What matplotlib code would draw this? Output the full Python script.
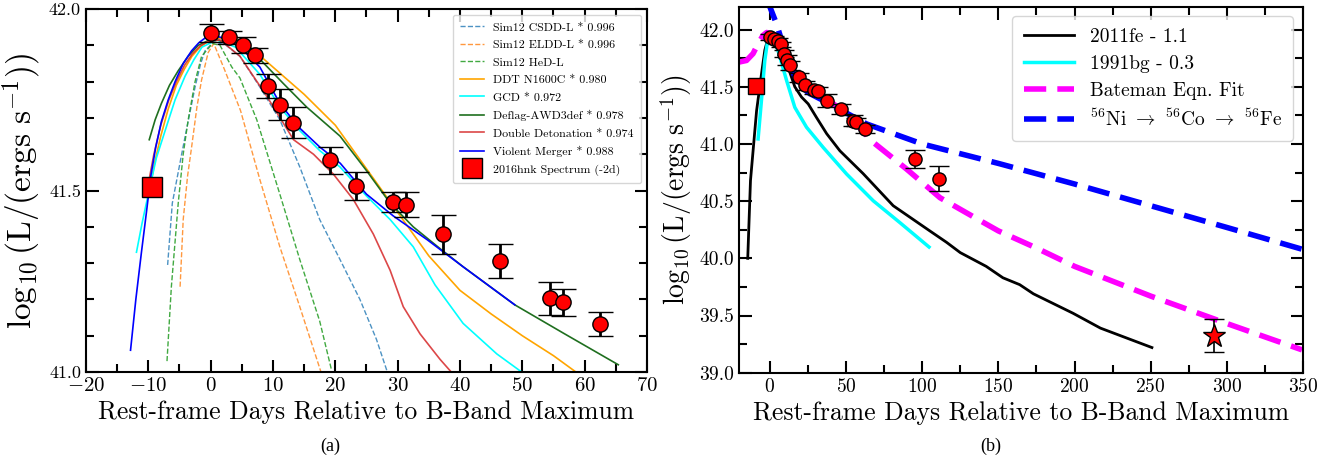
import numpy as np
import matplotlib
matplotlib.use("Agg")
import matplotlib.pyplot as plt
from matplotlib.ticker import MultipleLocator

plt.rcParams['font.family'] = 'serif'
plt.rcParams['font.serif'] = ['cmr10']
plt.rcParams['mathtext.fontset'] = 'cm'
plt.rcParams['axes.formatter.use_mathtext'] = True
plt.rcParams['axes.unicode_minus'] = True

# observed bolometric light curve of 2016hnk
obs_day = [0.0, 3.0, 5.2, 7.1, 9.2, 11.2, 13.2, 19.2, 23.3, 29.3, 31.3, 37.3, 46.5, 54.4, 56.5, 62.4]
obs_L = [41.934, 41.922, 41.901, 41.872, 41.788, 41.736, 41.687, 41.583, 41.512, 41.468, 41.461,
         41.379, 41.305, 41.203, 41.192, 41.132]
obs_err = [0.024, 0.018, 0.023, 0.020, 0.032, 0.043, 0.042, 0.037, 0.038, 0.027, 0.035,
           0.054, 0.047, 0.046, 0.038, 0.034]
spec_day, spec_L = -9.4, 41.51

# late-time points (panel b only)
late_day = [95.3, 111.2]
late_L = [40.868, 40.698]
late_err = [0.079, 0.111]
star_day, star_L, star_err = 291.7, 39.325, 0.148

# panel (a) models
csdd_d = [-6.9, -6.15, -4.65, -3.5, -2.5, -1.6, -0.9, 0.5, 2.5, 4.7, 7.9, 11.1, 14.3, 17.5, 20.75,
          23.95, 26.6, 28.25]
csdd_L = [41.295, 41.465, 41.60, 41.70, 41.785, 41.85, 41.885, 41.91, 41.90, 41.87, 41.785, 41.695,
          41.565, 41.42, 41.31, 41.20, 41.09, 41.005]
eldd_d = [-4.9, -4.4, -3.7, -3.05, -2.2, -1.45, -0.4, 0.5, 2.3, 4.8, 7.9, 11.1, 14.3, 17.7]
eldd_L = [41.235, 41.42, 41.54, 41.62, 41.73, 41.805, 41.88, 41.905, 41.83, 41.72, 41.53, 41.345,
          41.18, 41.0]
hed_d = [-7.0, -6.3, -5.2, -4.4, -3.6, -2.5, -1.45, 0.3, 1.5, 3.4, 4.7, 7.4, 11.1, 14.3, 17.5, 19.4]
hed_L = [41.03, 41.235, 41.465, 41.60, 41.695, 41.80, 41.87, 41.905, 41.90, 41.84, 41.81, 41.695,
         41.49, 41.31, 41.14, 41.005]
ddt_d = [-10.0, -9.0, -8.0, -6.8, -5.5, -4.2, -3.0, -1.7, -0.5, 1.5, 4.7, 7.0, 10.0, 15.0, 20.0,
         25.0, 30.0, 35.0, 40.0, 45.0, 50.0, 55.0, 58.6]
ddt_L = [41.48, 41.575, 41.65, 41.725, 41.79, 41.835, 41.87, 41.895, 41.91, 41.92, 41.915, 41.885,
         41.84, 41.765, 41.68, 41.56, 41.44, 41.32, 41.225, 41.16, 41.10, 41.045, 41.0]
gcd_d = [-11.9, -11.0, -10.0, -8.7, -7.3, -5.7, -4.1, -2.7, -1.4, 1.0, 4.0, 7.9, 11.1, 14.3, 17.5,
         20.75, 25.0, 28.8, 32.5, 36.0, 40.5, 45.9, 49.9]
gcd_L = [41.33, 41.41, 41.49, 41.59, 41.665, 41.75, 41.815, 41.86, 41.895, 41.915, 41.895, 41.82,
         41.73, 41.665, 41.61, 41.565, 41.485, 41.42, 41.345, 41.24, 41.134, 41.05, 41.0]
defl_d = [-9.85, -8.9, -7.9, -6.6, -5.2, -3.6, -2.0, -0.5, 1.0, 4.7, 8.0, 11.65, 15.4, 20.75, 25.0,
          28.8, 32.5, 36.8, 40.5, 48.8, 56.6, 65.4]
defl_L = [41.64, 41.695, 41.74, 41.79, 41.83, 41.87, 41.90, 41.912, 41.915, 41.90, 41.86, 41.795,
          41.73, 41.65, 41.555, 41.465, 41.40, 41.34, 41.29, 41.185, 41.107, 41.02]
dd_d = [-10.2, -9.1, -8.0, -6.7, -5.5, -4.2, -3.0, -1.7, -0.5, 1.5, 4.7, 9.0, 13.3, 16.5, 19.7,
        22.9, 26.1, 28.8, 30.9, 33.6, 36.8, 38.6]
dd_L = [41.50, 41.60, 41.68, 41.75, 41.80, 41.845, 41.875, 41.898, 41.91, 41.915, 41.87, 41.76,
        41.64, 41.60, 41.545, 41.475, 41.38, 41.28, 41.18, 41.105, 41.035, 41.0]
vm_d = [-12.85, -12.0, -11.1, -10.3, -9.6, -8.8, -7.9, -6.8, -5.7, -4.4, -3.05, -1.9, -0.9, 1.0,
        3.0, 5.0, 7.9, 11.1, 14.1, 17.5, 20.8, 25.0, 29.3, 34.7, 40.5, 48.8]
vm_L = [41.06, 41.20, 41.33, 41.44, 41.54, 41.62, 41.69, 41.75, 41.80, 41.85, 41.885, 41.907,
        41.92, 41.925, 41.915, 41.89, 41.84, 41.74, 41.675, 41.62, 41.575, 41.49, 41.43, 41.365,
        41.29, 41.185]

# panel (b) comparison curves
fe_d = [-14.5, -12.7, -8.7, -5.5, -3.3, -0.5, 1.0, 6.6, 12.0, 16.4, 20.8, 25.2, 30.7, 37.3, 46.0,
        61.3, 81.0, 105.0, 116.0, 125.0, 142.0, 153.0, 164.0, 173.0, 199.0, 217.0, 250.8]
fe_L = [40.0, 40.68, 41.29, 41.61, 41.82, 41.96, 41.97, 41.90, 41.67, 41.50, 41.41, 41.35, 41.23,
        41.09, 40.94, 40.74, 40.46, 40.24, 40.14, 40.05, 39.93, 39.83, 39.77, 39.69, 39.52, 39.39,
        39.22]
bg_d = [-7.7, -5.5, -3.3, -1.1, 0.5, 3.3, 6.6, 11.0, 16.4, 24.1, 35.0, 50.4, 67.9, 85.4, 104.5]
bg_L = [41.044, 41.38, 41.73, 41.935, 41.965, 41.906, 41.76, 41.555, 41.32, 41.146, 40.97, 40.737,
        40.503, 40.312, 40.099]
bat_d = [-20.2, -15.3, -11.0, -7.7, -4.4, -2.0, 0.0, 5.0, 10.0, 15.0, 20.0, 27.4, 40.0, 52.6, 67.9,
         89.8, 111.7, 138.0, 150.0, 175.0, 200.0, 250.0, 300.0, 349.3]
bat_L = [41.716, 41.73, 41.79, 41.877, 41.95, 41.975, 41.96, 41.90, 41.76, 41.64, 41.56, 41.497,
         41.37, 41.233, 41.014, 40.78, 40.53, 40.33, 40.24, 40.09, 39.93, 39.67, 39.43, 39.20]
ni_d = [-1.0, 0.0, 4.4, 7.7, 12.0, 17.5, 25.0, 37.2, 63.5, 100.0, 150.0, 200.0, 250.0, 300.0, 349.3]
ni_L = [42.30, 42.2, 42.05, 41.906, 41.73, 41.555, 41.45, 41.365, 41.175, 41.0, 40.83, 40.65,
        40.46, 40.27, 40.08]

fig = plt.figure(figsize=(13.37, 4.63), dpi=100)
axa = fig.add_axes([0.0643, 0.1965, 0.4196, 0.784])
axb = fig.add_axes([0.553, 0.195, 0.4216, 0.7905])

# ---- panel (a)
axa.plot(csdd_d, csdd_L, '--', color='#1f77b4', lw=1.0, alpha=0.8, label='Sim12 CSDD-L * 0.996')
axa.plot(eldd_d, eldd_L, '--', color='#ff7f0e', lw=1.0, alpha=0.8, label='Sim12 ELDD-L * 0.996')
axa.plot(hed_d, hed_L, '--', color='#2ca02c', lw=1.0, alpha=0.9, label='Sim12 HeD-L')
axa.plot(ddt_d, ddt_L, '-', color='orange', lw=1.2, label='DDT N1600C * 0.980')
axa.plot(gcd_d, gcd_L, '-', color='cyan', lw=1.2, label='GCD * 0.972')
axa.plot(defl_d, defl_L, '-', color='#1f6f1f', lw=1.2, label='Deflag-AWD3def * 0.978')
axa.plot(dd_d, dd_L, '-', color='#d62728', lw=1.2, alpha=0.85, label='Double Detonation * 0.974')
axa.plot(vm_d, vm_L, '-', color='blue', lw=1.2, label='Violent Merger * 0.988')
axa.errorbar(obs_day, obs_L, yerr=obs_err, fmt='o', color='red', mec='black', mew=1.0, ms=11,
             ecolor='black', elinewidth=2, capsize=9, capthick=1.5, zorder=5)
axa.plot([spec_day], [spec_L], 's', color='red', mec='black', mew=1.0, ms=15, zorder=6,
         label='2016hnk Spectrum (-2d)')

axa.set_xlim(-20, 70)
axa.set_ylim(41.0, 42.0)
axa.xaxis.set_major_locator(MultipleLocator(10))
axa.xaxis.set_minor_locator(MultipleLocator(5))
axa.yaxis.set_major_locator(MultipleLocator(0.5))
axa.yaxis.set_minor_locator(MultipleLocator(0.1))
axa.yaxis.set_major_formatter(plt.FormatStrFormatter('%.1f'))
axa.tick_params(axis='x', labelsize=15)
axa.tick_params(axis='y', labelsize=13)
axa.set_xlabel('Rest-frame Days Relative to B-Band Maximum', fontsize=18.5)
axa.set_ylabel(r'$\log_{10}(\mathrm{L}/(\mathrm{ergs\ s}^{-1}))$', fontsize=24)
axa.legend(loc='upper right', fontsize=8.6, numpoints=1, borderpad=0.6, labelspacing=0.6)

# ---- panel (b)
axb.plot(fe_d, fe_L, '-', color='black', lw=2, label='2011fe - 1.1')
axb.plot(bg_d, bg_L, '-', color='cyan', lw=2.5, label='1991bg - 0.3')
axb.plot(bat_d, bat_L, '--', color='magenta', lw=4, dashes=(4, 2), label='Bateman Eqn. Fit')
axb.plot(ni_d, ni_L, '--', color='blue', lw=4, dashes=(4, 2),
         label=r'$^{56}$Ni $\rightarrow$ $^{56}$Co $\rightarrow$ $^{56}$Fe')
axb.errorbar(obs_day + late_day, obs_L + late_L, yerr=obs_err + late_err, fmt='o', color='red',
             mec='black', mew=1.0, ms=9.5, ecolor='black', elinewidth=1.2, capsize=7, zorder=5)
axb.plot([spec_day], [spec_L], 's', color='red', mec='black', mew=1.0, ms=11, zorder=6)
axb.errorbar([star_day], [star_L], yerr=[star_err], fmt='*', color='red', mec='black', mew=1.0,
             ms=17, ecolor='black', elinewidth=1.2, capsize=7, zorder=6)

axb.set_xlim(-20, 350)
axb.set_ylim(39.0, 42.2)
axb.xaxis.set_major_locator(MultipleLocator(50))
axb.xaxis.set_minor_locator(MultipleLocator(25))
axb.yaxis.set_major_locator(MultipleLocator(0.5))
axb.yaxis.set_minor_locator(MultipleLocator(0.25))
axb.yaxis.set_major_formatter(plt.FormatStrFormatter('%.1f'))
axb.tick_params(axis='both', labelsize=14)
axb.set_xlabel('Rest-frame Days Relative to B-Band Maximum', fontsize=18.5)
axb.set_ylabel(r'$\log_{10}(\mathrm{L}/(\mathrm{ergs\ s}^{-1}))$', fontsize=20)
axb.legend(loc='upper right', fontsize=14, handlelength=2.6, borderpad=0.6, labelspacing=0.45)

for ax in (axa, axb):
    ax.tick_params(which='both', direction='in', top=True, right=True, width=1.5)
    ax.tick_params(which='major', length=9)
    ax.tick_params(which='minor', length=6)
    for s in ax.spines.values():
        s.set_linewidth(1.5)

fig.text(0.247, 0.037, '(a)', fontsize=13, family='Liberation Serif', ha='center', va='center')
fig.text(0.741, 0.037, '(b)', fontsize=13, family='Liberation Serif', ha='center', va='center')

fig.savefig('out.png', dpi=100)
